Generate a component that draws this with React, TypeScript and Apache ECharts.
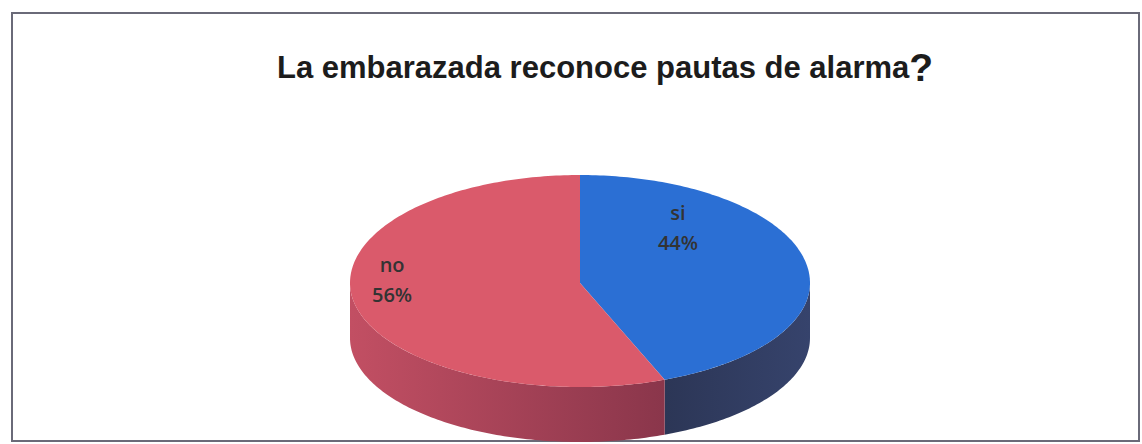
import React, { useEffect, useRef } from "react";
import * as echarts from "echarts";

// ---- data ----
const categories = ["si", "no"];
const values = [44, 56];
const chartTitle = "La embarazada reconoce pautas de alarma";

// ---- style / geometry ----
const CX = 580;
const CY = 283;
const RX = 230;
const RY_UP = 108;
const RY_DOWN = 104;
const DEPTH = 55;
const TOP_COLORS = ["#2b6fd4", "#da5a6b"];
const SIDE_COLORS: [string, string][] = [
  ["#2c3656", "#36436c"],
  ["#c24f63", "#8a364b"],
];
// label anchor, as fractions of the radii from the centre
const LABEL_ANCHORS: [number, number][] = [
  [0.426, -0.51],
  [-0.817, -0.03],
];

const total = values.reduce((a, b) => a + b, 0);
const starts = values.map(
  (_, i) => (values.slice(0, i).reduce((a, b) => a + b, 0) / total) * Math.PI * 2
);

function pt(t: number, dy: number): number[] {
  const c = Math.cos(t);
  return [CX + RX * Math.sin(t), CY - (c > 0 ? RY_UP : RY_DOWN) * c + dy];
}

function arc(a: number, b: number, dy: number): number[][] {
  const n = Math.max(2, Math.ceil((b - a) / (Math.PI / 180)));
  const out: number[][] = [];
  for (let k = 0; k <= n; k++) out.push(pt(a + ((b - a) * k) / n, dy));
  return out;
}

export default function App() {
  const ref = useRef<HTMLDivElement>(null);
  useEffect(() => {
    if (!ref.current) return;
    const chart = echarts.init(ref.current, undefined, { renderer: "svg" });
    chart.setOption({
      animation: false,
      backgroundColor: "#ffffff",
      title: {
        text: "{a|" + chartTitle + "}{q|?}",
        left: 277,
        top: 47,
        padding: 0,
        textStyle: {
          rich: {
            a: {
              fontFamily: "Liberation Sans",
              fontWeight: "bold",
              fontSize: 31,
              color: "#1c1c1c",
              lineHeight: 40,
            },
            q: {
              fontFamily: "Liberation Sans",
              fontWeight: "bold",
              fontSize: 39,
              color: "#1c1c1c",
              lineHeight: 40,
            },
          },
        },
      },
      graphic: [
        {
          type: "rect",
          shape: { x: 12, y: 13, width: 1127, height: 428 },
          style: { fill: "none", stroke: "#6a6a78", lineWidth: 2 },
          silent: true,
        },
      ],
      series: [
        {
          type: "custom",
          coordinateSystem: "none",
          data: values.map((v, i) => ({ name: categories[i], value: v })),
          renderItem: (params: any, api: any) => {
            const i = params.dataIndex;
            const v = api.value(0);
            const a = starts[i];
            const b = a + (v / total) * Math.PI * 2;
            const children: any[] = [];
            const sa = Math.max(a, Math.PI / 2);
            const sb = Math.min(b, (Math.PI * 3) / 2);
            if (sa < sb) {
              const upper = arc(sa, sb, 0);
              const lower = arc(sa, sb, DEPTH).reverse();
              children.push({
                type: "polygon",
                shape: { points: upper.concat(lower) },
                style: {
                  fill: new echarts.graphic.LinearGradient(0, 0, 1, 0, [
                    { offset: 0, color: SIDE_COLORS[i][0] },
                    { offset: 1, color: SIDE_COLORS[i][1] },
                  ]),
                },
              });
            }
            children.push({
              type: "polygon",
              shape: { points: [[CX, CY]].concat(arc(a, b, 0)) },
              style: { fill: TOP_COLORS[i] },
            });
            const pct = Math.round((v / total) * 100);
            const [fx, fy] = LABEL_ANCHORS[i];
            children.push({
              type: "text",
              style: {
                text: categories[i] + "\n" + pct + "%",
                x: CX + fx * RX,
                y: CY + fy * RY_UP,
                align: "center",
                verticalAlign: "middle",
                fill: "#333333",
                fontFamily: "Open Sans",
                fontWeight: 600,
                fontSize: 20,
                lineHeight: 30,
              },
            });
            return { type: "group", children };
          },
        },
      ],
    });
    return () => chart.dispose();
  }, []);
  return (
    <div
      ref={ref}
      style={{ position: "fixed", left: 0, top: 0, width: 1142, height: 444 }}
    />
  );
}
